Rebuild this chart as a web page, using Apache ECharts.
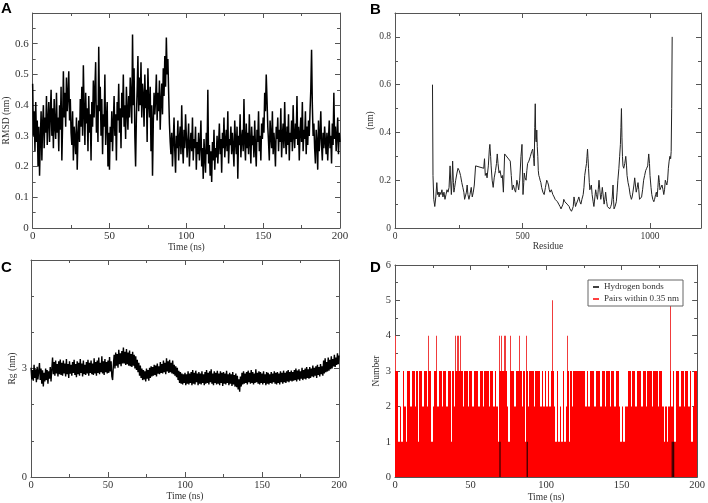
<!DOCTYPE html>
<html><head><meta charset="utf-8">
<script src="https://cdn.jsdelivr.net/npm/echarts@6/dist/echarts.min.js"></script>
<style>html,body{margin:0;padding:0;background:#fff}#c{width:708px;height:503px}</style>
</head><body><div id="c"></div><script>
// ---------- DATA ----------
// Panel A: RMSD (nm) sampled every 0.5 ns, 0..200 ns
const rmsdStep = 0.5;
const rmsd = [
0.47,0.30,0.38,0.25,0.41,0.28,0.35,0.20,0.33,0.17,0.29,0.38,0.22,0.34,0.40,0.26,0.36,0.31,0.43,0.27,
0.35,0.41,0.28,0.37,0.45,0.30,0.39,0.26,0.42,0.33,0.29,0.44,0.31,0.36,0.25,0.40,0.32,0.46,0.22,0.34,
0.51,0.36,0.44,0.33,0.49,0.38,0.43,0.51,0.35,0.42,0.31,0.27,0.38,0.22,0.33,0.29,0.24,0.36,0.19,0.30,
0.35,0.28,0.42,0.33,0.46,0.30,0.53,0.38,0.27,0.44,0.34,0.39,0.25,0.43,0.31,0.37,0.22,0.41,0.33,0.48,
0.36,0.45,0.54,0.31,0.40,0.28,0.59,0.38,0.46,0.30,0.42,0.24,0.37,0.33,0.50,0.27,0.35,0.41,0.20,0.31,
0.19,0.33,0.28,0.38,0.25,0.34,0.43,0.30,0.37,0.22,0.41,0.35,0.47,0.31,0.39,0.26,0.44,0.36,0.50,0.33,
0.40,0.29,0.46,0.38,0.32,0.43,0.36,0.49,0.42,0.34,0.63,0.40,0.52,0.30,0.20,0.36,0.45,0.56,0.38,0.49,
0.40,0.54,0.36,0.47,0.43,0.33,0.50,0.39,0.45,0.28,0.52,0.41,0.36,0.46,0.25,0.40,0.17,0.34,0.44,0.37,
0.42,0.50,0.35,0.44,0.38,0.48,0.32,0.41,0.47,0.37,0.52,0.43,0.56,0.46,0.62,0.50,0.55,0.44,0.34,0.28,
0.24,0.31,0.20,0.28,0.36,0.25,0.18,0.30,0.26,0.35,0.22,0.29,0.33,0.24,0.40,0.27,0.21,0.32,0.26,0.37,
0.30,0.23,0.28,0.34,0.20,0.27,0.31,0.25,0.36,0.22,0.29,0.26,0.33,0.19,0.28,0.24,0.31,0.22,0.27,0.35,
0.20,0.26,0.16,0.29,0.23,0.18,0.31,0.24,0.45,0.21,0.27,0.17,0.25,0.15,0.28,0.22,0.32,0.19,0.26,0.23,
0.30,0.21,0.27,0.34,0.24,0.29,0.18,0.31,0.26,0.36,0.23,0.28,0.32,0.25,0.38,0.21,0.29,0.27,0.33,0.24,
0.31,0.26,0.20,0.35,0.28,0.24,0.33,0.16,0.30,0.27,0.37,0.23,0.29,0.32,0.25,0.42,0.28,0.22,0.34,0.26,
0.31,0.24,0.37,0.28,0.21,0.33,0.27,0.30,0.23,0.35,0.26,0.20,0.32,0.28,0.38,0.25,0.30,0.22,0.34,0.29,
0.36,0.31,0.44,0.38,0.50,0.42,0.33,0.28,0.22,0.35,0.30,0.26,0.38,0.24,0.31,0.27,0.20,0.33,0.29,0.36,
0.25,0.32,0.28,0.39,0.23,0.30,0.34,0.26,0.41,0.29,0.24,0.33,0.27,0.37,0.22,0.31,0.28,0.35,0.25,0.40,
0.30,0.26,0.34,0.29,0.43,0.27,0.33,0.22,0.31,0.36,0.28,0.41,0.25,0.32,0.29,0.38,0.24,0.33,0.27,0.35,
0.30,0.38,0.45,0.58,0.40,0.30,0.34,0.26,0.21,0.32,0.28,0.19,0.35,0.25,0.30,0.38,0.27,0.22,0.31,0.26,
0.33,0.28,0.24,0.31,0.22,0.29,0.35,0.26,0.30,0.21,0.34,0.27,0.44,0.29,0.33,0.25,0.30,0.36,0.24,0.31,
0.28];

// Panel B: RMSF (nm) per residue
const residueB = [147,149,152,156,160,164,167,170,173,176,180,184,188,192,196,200,204,208,212,216,219,221,224,226,229,231,234,238,243,247,252,257,262,266,270,273,276,280,283,286,290,294,299,303,307,311,316,348,351,354,358,361,366,370,372,375,377,381,385,389,394,398,401,404,408,412,417,421,425,430,452,456,460,464,469,473,478,482,485,489,494,498,502,505,507,510,514,517,520,525,531,536,540,544,546,548,550,552,554,556,558,560,562,564,567,569,572,575,580,585,590,595,599,602,605,608,613,619,624,628,633,637,642,647,651,655,659,662,666,670,675,679,683,686,690,692,696,699,702,705,708,711,714,718,721,725,729,733,738,741,744,748,751,753,755,757,759,762,764,767,770,773,777,780,784,787,790,794,797,800,804,807,810,813,817,820,823,826,830,833,837,842,846,849,852,855,857,859,863,868,871,874,878,881,884,886,888,890,892,894,897,901,905,908,910,914,918,922,927,930,933,937,940,943,946,950,953,956,959,963,967,971,975,979,983,987,991,995,998,1000,1004,1007,1011,1015,1018,1022,1025,1028,1031,1034,1037,1039,1043,1047,1051,1054,1057,1060,1063,1066,1069,1072,1075,1078,1081,1083,1085,1087];
const rmsfB = [0.60,0.22,0.12,0.09,0.13,0.19,0.14,0.15,0.13,0.15,0.14,0.16,0.13,0.15,0.12,0.14,0.16,0.15,0.17,0.26,0.18,0.14,0.20,0.28,0.19,0.15,0.17,0.20,0.23,0.25,0.24,0.22,0.19,0.17,0.15,0.12,0.12,0.15,0.18,0.14,0.12,0.14,0.17,0.13,0.15,0.18,0.26,0.25,0.29,0.22,0.23,0.21,0.26,0.33,0.35,0.30,0.26,0.20,0.17,0.21,0.24,0.27,0.31,0.27,0.23,0.24,0.21,0.22,0.15,0.31,0.28,0.22,0.16,0.18,0.16,0.15,0.20,0.18,0.16,0.20,0.30,0.35,0.14,0.19,0.23,0.21,0.20,0.24,0.27,0.28,0.30,0.32,0.33,0.29,0.26,0.42,0.52,0.37,0.36,0.41,0.34,0.30,0.24,0.22,0.21,0.20,0.19,0.17,0.15,0.14,0.17,0.20,0.19,0.18,0.16,0.15,0.16,0.14,0.13,0.12,0.12,0.11,0.10,0.09,0.08,0.08,0.10,0.12,0.11,0.11,0.10,0.10,0.09,0.08,0.08,0.07,0.08,0.09,0.13,0.11,0.09,0.10,0.10,0.12,0.13,0.11,0.10,0.12,0.14,0.17,0.22,0.25,0.27,0.30,0.33,0.29,0.25,0.19,0.16,0.17,0.18,0.14,0.11,0.09,0.13,0.16,0.14,0.12,0.16,0.20,0.15,0.12,0.14,0.17,0.13,0.10,0.12,0.15,0.11,0.09,0.09,0.08,0.09,0.10,0.13,0.18,0.12,0.08,0.09,0.11,0.15,0.20,0.25,0.30,0.35,0.42,0.50,0.38,0.30,0.26,0.25,0.27,0.30,0.26,0.22,0.19,0.17,0.14,0.12,0.13,0.15,0.18,0.21,0.18,0.15,0.17,0.19,0.16,0.12,0.12,0.13,0.16,0.20,0.22,0.24,0.25,0.26,0.31,0.27,0.22,0.17,0.14,0.12,0.11,0.12,0.14,0.15,0.13,0.17,0.22,0.19,0.16,0.17,0.18,0.16,0.14,0.16,0.20,0.19,0.18,0.20,0.25,0.28,0.30,0.29,0.32,0.50,0.80];

// Panel C: Rg (nm) sampled every 0.5 ns
const rgStep = 0.5;
const rg = [
3.02,2.70,2.96,2.66,3.10,2.74,2.98,2.62,3.05,2.70,2.92,3.15,2.68,3.00,2.58,2.95,2.50,2.88,2.64,3.00,
2.68,2.96,2.58,2.92,2.72,3.04,2.64,2.98,3.30,2.84,3.18,2.80,3.22,2.86,3.12,2.78,3.20,2.84,3.25,2.82,
3.16,2.80,3.22,2.86,3.14,2.78,3.26,2.84,3.12,2.74,3.20,2.86,3.10,2.80,3.18,2.88,3.24,2.82,3.12,2.76,
3.20,2.84,3.16,2.80,3.26,2.88,3.14,2.78,3.22,2.84,3.10,2.82,3.18,2.86,3.24,2.80,3.16,2.88,3.22,2.84,
3.14,2.82,3.28,2.86,3.18,2.80,3.22,2.88,3.30,2.84,3.16,2.90,3.34,2.86,3.20,2.82,3.26,2.90,3.18,2.86,
3.22,2.88,3.32,2.92,3.20,2.78,2.68,3.10,3.38,3.00,3.44,3.08,3.40,3.02,3.52,3.12,3.42,3.06,3.48,3.14,
3.58,3.14,3.46,3.10,3.54,3.12,3.44,3.08,3.50,3.06,3.40,3.04,3.46,3.08,3.38,3.00,3.34,2.96,3.24,2.90,
3.16,2.80,3.08,2.74,3.00,2.68,2.96,2.70,2.92,2.64,3.00,2.72,2.96,2.66,3.02,2.74,3.06,2.78,3.04,2.80,
3.10,2.82,3.08,2.78,3.14,2.86,3.06,2.84,3.18,2.88,3.12,2.86,3.22,2.90,3.16,2.84,3.28,2.92,3.20,2.88,
3.24,2.90,3.16,2.86,3.22,2.84,3.10,2.80,3.06,2.76,3.02,2.68,2.94,2.60,2.90,2.58,2.86,2.56,2.84,2.60,
2.88,2.54,2.84,2.58,2.92,2.56,2.86,2.60,2.90,2.54,2.96,2.58,2.88,2.56,2.94,2.62,2.86,2.54,2.90,2.58,
2.86,2.56,2.92,2.60,2.84,2.54,2.90,2.58,2.96,2.60,2.88,2.56,2.92,2.62,2.98,2.58,2.86,2.54,2.92,2.60,
2.88,2.56,2.94,2.58,2.86,2.54,2.92,2.60,2.88,2.52,2.90,2.58,2.86,2.56,2.94,2.60,2.84,2.54,2.88,2.58,
2.84,2.52,2.90,2.56,2.82,2.50,2.86,2.48,2.80,2.42,2.70,2.36,2.78,2.50,2.88,2.56,2.92,2.58,2.86,2.60,
2.90,2.56,2.94,2.62,2.88,2.58,2.96,2.60,2.90,2.56,2.86,2.60,2.98,2.62,2.88,2.58,2.92,2.56,2.90,2.60,
2.86,2.56,2.92,2.60,2.84,2.54,2.90,2.58,2.88,2.56,2.84,2.60,2.90,2.58,2.86,2.62,2.92,2.58,2.88,2.56,
2.90,2.60,2.86,2.56,2.92,2.62,2.88,2.58,2.94,2.62,2.88,2.60,2.92,2.64,2.96,2.62,2.90,2.66,2.94,2.64,
2.90,2.66,2.96,2.68,3.00,2.64,2.94,2.70,2.98,2.66,2.92,2.72,3.02,2.68,2.96,2.72,3.00,2.70,3.04,2.74,
2.98,2.72,3.04,2.74,3.00,2.78,3.08,2.76,3.02,2.80,3.06,2.74,3.10,2.82,3.04,2.78,3.12,2.84,3.06,2.80,
3.22,2.86,3.28,2.90,3.18,2.92,3.30,2.94,3.24,2.98,3.34,3.00,3.26,3.06,3.38,3.04,3.30,3.10,3.42,3.12,
3.36];

// Panel D: counts per 1 ns bin, 0..200 ns
const pairs = [
4,3,1,2,1,3,2,1,3,3, 2,3,3,2,3,1,3,3,2,3, 3,2,4,3,1,2,3,4,2,3, 3,2,3,3,2,3,3,1,3,2,
4,4,4,4,3,2,3,3,2,3, 3,2,3,3,3,2,3,3,2,3, 3,3,2,3,3,2,3,2,1,4, 4,3,4,4,2,1,4,3,3,2,
3,3,4,3,2,3,1,4,2,3, 3,3,2,3,3,3,2,3,2,3, 2,3,2,3,5,2,1,3,1,2, 1,3,1,2,4,1,3,2,3,3,
3,3,3,3,3,3,2,3,2,3, 3,3,2,3,3,3,2,3,3,2, 3,3,2,3,3,2,3,3,2,1, 2,1,2,2,3,3,2,3,3,2,
3,3,3,2,3,3,2,3,3,3, 2,3,3,3,2,3,3,2,1,2, 1,2,5,2,3,1,3,3,2,3, 3,2,3,3,2,3,1,2,3,3];
const hbonds = [
0,0,0,0,0,0,0,0,0,0, 0,0,0,0,0,0,0,0,0,0, 0,0,0,0,0,0,0,0,0,0, 0,0,0,0,0,0,0,0,0,0,
0,0,0,0,0,0,0,0,0,0, 0,0,0,0,0,0,0,0,0,0, 0,0,0,0,0,0,0,0,0,1, 0,0,0,0,0,0,0,0,0,0,
0,0,0,0,0,0,0,1,0,0, 0,0,0,0,0,0,0,0,0,0, 0,0,0,0,0,0,0,0,0,0, 0,0,0,0,0,0,0,0,0,0,
0,0,0,0,0,0,0,0,0,0, 0,0,0,0,0,0,0,0,0,0, 0,0,0,0,0,0,0,0,0,0, 0,0,0,0,0,0,0,0,0,0,
0,0,0,0,0,0,0,0,0,0, 0,0,0,0,0,0,0,0,0,0, 0,0,0,1,1,0,0,0,0,0, 0,0,0,0,0,0,0,0,0,0];
const seriesNamesD = ['Hydrogen bonds', 'Pairs within 0.35 nm'];

// ---------- CHART ----------
const FONT = '"Liberation Serif", "DejaVu Serif", serif';
const AX = '#555';
const TXT = '#333';
const RED = '#ff0000';

const grids = [
  {left: 32, top: 13, width: 308, height: 215},
  {left: 395, top: 13, width: 306, height: 215},
  {left: 31, top: 260, width: 308, height: 217},
  {left: 395, top: 265, width: 305, height: 214}
];

function mkAxis(gi, pos, o) {
  const isX = pos === 'bottom' || pos === 'top';
  const main = pos === 'bottom' || pos === 'left';
  const a = {
    gridIndex: gi, type: 'value', position: pos, min: o.min, max: o.max, interval: o.interval,
    axisLine: {show: true, onZero: false, lineStyle: {color: AX, width: 1}},
    axisTick: {show: true, inside: true, length: 5, lineStyle: {color: AX}},
    minorTick: {show: true, splitNumber: o.split, length: 3, lineStyle: {color: AX}},
    splitLine: {show: false}, minorSplitLine: {show: false},
    axisLabel: {show: main, fontFamily: FONT, fontSize: o.fs, color: TXT, margin: isX ? 3 : 4,
      showMaxLabel: o.showMax, showMinLabel: true, hideOverlap: false,
      formatter: v => String(Math.round(v * 1000) / 1000)}
  };
  if (main && o.name) {
    a.name = o.name; a.nameLocation = 'middle'; a.nameGap = o.gap;
    a.nameTextStyle = {fontFamily: FONT, fontSize: 9.5, color: TXT};
  }
  return a;
}

const xSpec = [
  {min: 0, max: 200, interval: 50, split: 2, fs: 11, showMax: true, name: 'Time (ns)', gap: 11},
  {min: 0, max: 1200, interval: 500, split: 2, fs: 9.5, showMax: false, name: 'Residue', gap: 10},
  {min: 0, max: 200, interval: 50, split: 2, fs: 10.5, showMax: true, name: 'Time (ns)', gap: 11},
  {min: 0, max: 200, interval: 50, split: 2, fs: 10.5, showMax: true, name: 'Time (ns)', gap: 13}
];
const ySpec = [
  {min: 0, max: 0.7, interval: 0.1, split: 2, fs: 11, showMax: false, name: 'RMSD (nm)', gap: 20},
  {min: 0, max: 0.9, interval: 0.2, split: 2, fs: 9.5, showMax: false, name: '(nm)', gap: 19},
  {min: 0, max: 6, interval: 3, split: 3, fs: 10.5, showMax: false, name: 'Rg (nm)', gap: 11},
  {min: 0, max: 6, interval: 1, split: 2, fs: 10.5, showMax: true, name: 'Number', gap: 9}
];

const xAxis = [], yAxis = [];
for (let g = 0; g < 4; g++) {
  xAxis.push(mkAxis(g, 'bottom', xSpec[g]));
  xAxis.push(mkAxis(g, 'top', xSpec[g]));
  yAxis.push(mkAxis(g, 'left', ySpec[g]));
  yAxis.push(mkAxis(g, 'right', ySpec[g]));
}

const dataA = rmsd.map((v, i) => [i * rmsdStep, v]);
const dataB = residueB.map((r, i) => [r, rmsfB[i]]);
const dataC = rg.map((v, i) => [i * rgStep, v]);
const dataPairs = pairs.map((v, i) => [i, v]);
const dataHb = hbonds.map((v, i) => [i + 0.5, v]);

// each 1-ns bin drawn as a column; counts above 3 drawn as thin spikes
function renderBin(params, api) {
  const t = api.value(0), v = api.value(1);
  const base = api.coord([t, 0]);
  const x0 = Math.round(base[0]);
  const x1 = Math.round(api.coord([t + 1, 0])[0]);
  const vb = Math.min(v, 3);
  const yt = api.coord([t, vb])[1];
  const kids = [{type: 'rect', shape: {x: x0, y: yt, width: Math.max(1, x1 - x0), height: base[1] - yt},
    style: {fill: RED}}];
  if (v > 3) {
    const ys = api.coord([t, v])[1];
    kids.push({type: 'rect', shape: {x: x0, y: ys, width: 1, height: yt - ys}, style: {fill: '#f03c3c'}});
  }
  return {type: 'group', children: kids};
}

const lineBase = {type: 'line', showSymbol: false, symbol: 'none', animation: false, silent: true};

const series = [
  Object.assign({}, lineBase, {xAxisIndex: 0, yAxisIndex: 0, data: dataA, lineStyle: {color: '#000', width: 1.5}}),
  Object.assign({}, lineBase, {xAxisIndex: 2, yAxisIndex: 2, data: dataB, lineStyle: {color: '#222', width: 1}}),
  Object.assign({}, lineBase, {xAxisIndex: 4, yAxisIndex: 4, data: dataC, lineStyle: {color: '#000', width: 1.4}}),
  {type: 'custom', name: seriesNamesD[1], xAxisIndex: 6, yAxisIndex: 6, data: dataPairs,
   renderItem: renderBin, encode: {x: 0, y: 1}, itemStyle: {color: RED}, clip: true,
   animation: false, silent: true, z: 2},
  {type: 'bar', name: seriesNamesD[0], xAxisIndex: 6, yAxisIndex: 6, data: dataHb, barWidth: 0.8,
   itemStyle: {color: '#000'}, animation: false, silent: true, z: 3}
];

const letter = (t, x, y) => ({type: 'text', left: x, top: y,
  style: {text: t, font: 'bold 15px "Liberation Sans", Arial, sans-serif', fill: '#000'}});

const chart = echarts.init(document.getElementById('c'), null, {renderer: 'canvas'});
chart.setOption({
  animation: false,
  backgroundColor: '#fff',
  grid: grids,
  xAxis: xAxis,
  yAxis: yAxis,
  series: series,
  legend: {
    data: [{name: seriesNamesD[0], icon: 'rect', itemStyle: {color: '#000'}},
           {name: seriesNamesD[1], icon: 'rect', itemStyle: {color: RED}}],
    orient: 'vertical', left: 588, top: 280, itemWidth: 6, itemHeight: 1.5, itemGap: 2,
    padding: [2, 4, 2, 5], borderColor: '#666', borderWidth: 1, backgroundColor: '#fff',
    textStyle: {fontFamily: FONT, fontSize: 9, color: TXT, lineHeight: 10},
    selectedMode: false, z: 10
  },
  graphic: [letter('A', 1, 1), letter('B', 370, 2), letter('C', 1, 260), letter('D', 370, 260)]
});
</script></body></html>
